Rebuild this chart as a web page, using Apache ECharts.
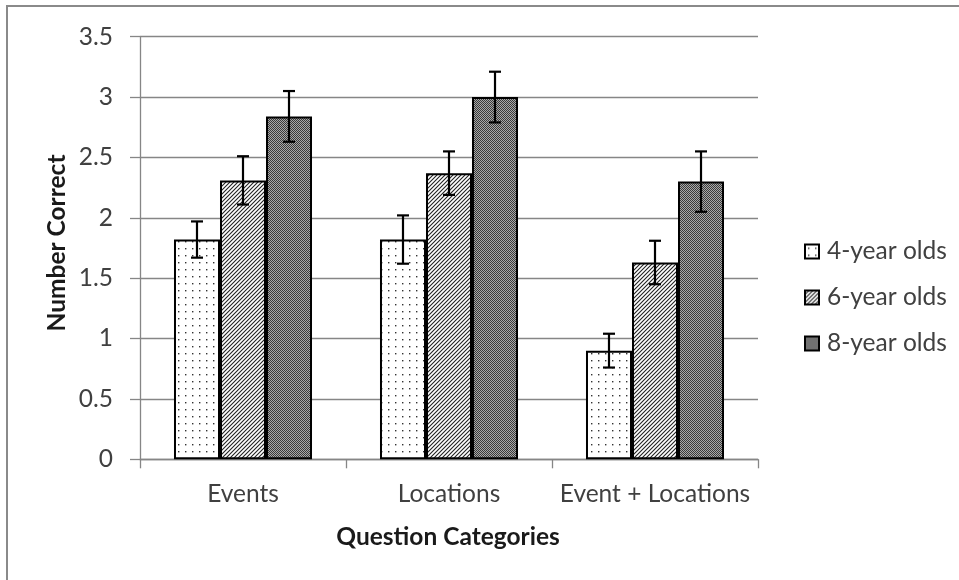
<!DOCTYPE html>
<html>
<head>
<meta charset="utf-8">
<script src="https://cdn.jsdelivr.net/npm/echarts@6/dist/echarts.min.js"></script>
<style>html,body{margin:0;padding:0;background:#fff}#c{width:959px;height:580px}</style>
</head>
<body>
<div id="c"></div>
<script>
const categories = ['Events', 'Locations', 'Event + Locations'];
const seriesNames = ['4-year olds', '6-year olds', '8-year olds'];
const values4 = [1.82, 1.82, 0.90];
const values6 = [2.31, 2.37, 1.63];
const values8 = [2.84, 3.00, 2.30];
const errors4 = [0.15, 0.20, 0.14];
const errors6 = [0.20, 0.18, 0.18];
const errors8 = [0.21, 0.21, 0.25];
const yTicks = { min: 0, max: 3.5, interval: 0.5 };

function makeTile(w, h, draw) {
  const c = document.createElement('canvas');
  c.width = w; c.height = h;
  const ctx = c.getContext('2d');
  draw(ctx, w, h);
  return c;
}
const dotTile = makeTile(7, 7, (ctx, w, h) => {
  ctx.fillStyle = '#fff'; ctx.fillRect(0, 0, w, h);
  ctx.fillStyle = '#333'; ctx.fillRect(3, 3, 1.4, 1.4);
});
const hatchTile = makeTile(4, 4, (ctx, w, h) => {
  ctx.fillStyle = '#fff'; ctx.fillRect(0, 0, w, h);
  ctx.strokeStyle = '#222'; ctx.lineWidth = 1.1;
  ctx.beginPath();
  ctx.moveTo(-1, 5); ctx.lineTo(5, -1);
  ctx.moveTo(-1, 1); ctx.lineTo(1, -1);
  ctx.moveTo(3, 5); ctx.lineTo(5, 3);
  ctx.stroke();
});
const checkTile = makeTile(2, 2, (ctx) => {
  ctx.fillStyle = '#a8a8a8'; ctx.fillRect(0, 0, 2, 2);
  ctx.fillStyle = '#3a3a3a'; ctx.fillRect(0, 0, 1, 1); ctx.fillRect(1, 1, 1, 1);
});
const patterns = [dotTile, hatchTile, checkTile];
const valueSets = [values4, values6, values8];
const errorSets = [errors4, errors6, errors8];
const GAP = 0.33;

const errData = [];
for (let s = 0; s < 3; s++) {
  for (let c = 0; c < categories.length; c++) {
    errData.push([c, s, valueSets[s][c] - errorSets[s][c], valueSets[s][c] + errorSets[s][c]]);
  }
}

const font = 'Lato, "Open Sans", sans-serif';
const textColor = '#404040';
const FS = 24.5;

const chart = echarts.init(document.getElementById('c'), null, { renderer: 'canvas' });
chart.setOption({
  animation: false,
  backgroundColor: '#fff',
  grid: { left: 140, right: 201, top: 36.7, bottom: 120.7, containLabel: false },
  legend: {
    data: seriesNames.map(n => ({ name: n, icon: 'rect' })),
    orient: 'vertical',
    left: 799,
    top: 232.5,
    itemWidth: 14,
    itemHeight: 14,
    itemGap: 18,
    selectedMode: false,
    textStyle: { fontFamily: font, fontSize: FS, color: textColor, lineHeight: 28, padding: [0, 0, 0, 3] }
  },
  xAxis: {
    type: 'category',
    data: categories,
    axisLine: { lineStyle: { color: '#868686', width: 1.3 } },
    axisTick: { show: true, length: 9, lineStyle: { color: '#868686', width: 1.3 } },
    axisLabel: { interval: 0, fontFamily: font, fontSize: FS, color: textColor, margin: 22 }
  },
  yAxis: {
    type: 'value',
    min: yTicks.min, max: yTicks.max, interval: yTicks.interval,
    axisLine: { show: true, lineStyle: { color: '#868686', width: 1.3 } },
    axisTick: { show: true, length: 10, lineStyle: { color: '#868686', width: 1.3 } },
    axisLabel: { fontFamily: font, fontSize: FS, color: textColor, margin: 27 },
    splitLine: { lineStyle: { color: '#868686', width: 1.3 } }
  },
  graphic: [
    { type: 'rect', shape: { x: 7, y: 6, width: 1100, height: 1000 }, style: { fill: 'none', stroke: '#8a8a8a', lineWidth: 2 }, silent: true, z: -1 },
    { type: 'text', x: 448, y: 537, style: { text: 'Question Categories', fontFamily: font, fontSize: FS, fontWeight: 'bold', fill: '#1a1a1a', textAlign: 'center', textVerticalAlign: 'middle' } },
    { type: 'text', x: 57, y: 243, rotation: Math.PI / 2, style: { text: 'Number Correct', fontFamily: font, fontSize: FS, fontWeight: 'bold', fill: '#1a1a1a', textAlign: 'center', textVerticalAlign: 'middle' } }
  ],
  series: [
    ...seriesNames.map((name, i) => ({
      name: name,
      type: 'bar',
      data: valueSets[i],
      barGap: '0%',
      barCategoryGap: (GAP * 100) + '%',
      itemStyle: { color: { image: patterns[i], repeat: 'repeat' }, borderColor: '#000', borderWidth: 2 },
      emphasis: { disabled: true }
    })),
    {
      type: 'custom',
      name: 'errors',
      data: errData,
      encode: { x: 0, y: [2, 3] },
      z: 10,
      renderItem: function (params, api) {
        const cat = api.value(0), s = api.value(1);
        const band = api.size([1, 0])[0];
        const bw = band * (1 - GAP) / 3;
        const cx = api.coord([cat, 0])[0] + (s - 1) * bw;
        const lo = api.coord([cat, api.value(2)])[1];
        const hi = api.coord([cat, api.value(3)])[1];
        const cap = 6;
        const st = { stroke: '#000', lineWidth: 2.2 };
        return {
          type: 'group',
          children: [
            { type: 'line', shape: { x1: cx, y1: lo, x2: cx, y2: hi }, style: st },
            { type: 'line', shape: { x1: cx - cap, y1: lo, x2: cx + cap, y2: lo }, style: st },
            { type: 'line', shape: { x1: cx - cap, y1: hi, x2: cx + cap, y2: hi }, style: st }
          ]
        };
      }
    }
  ]
});
</script>
</body>
</html>
